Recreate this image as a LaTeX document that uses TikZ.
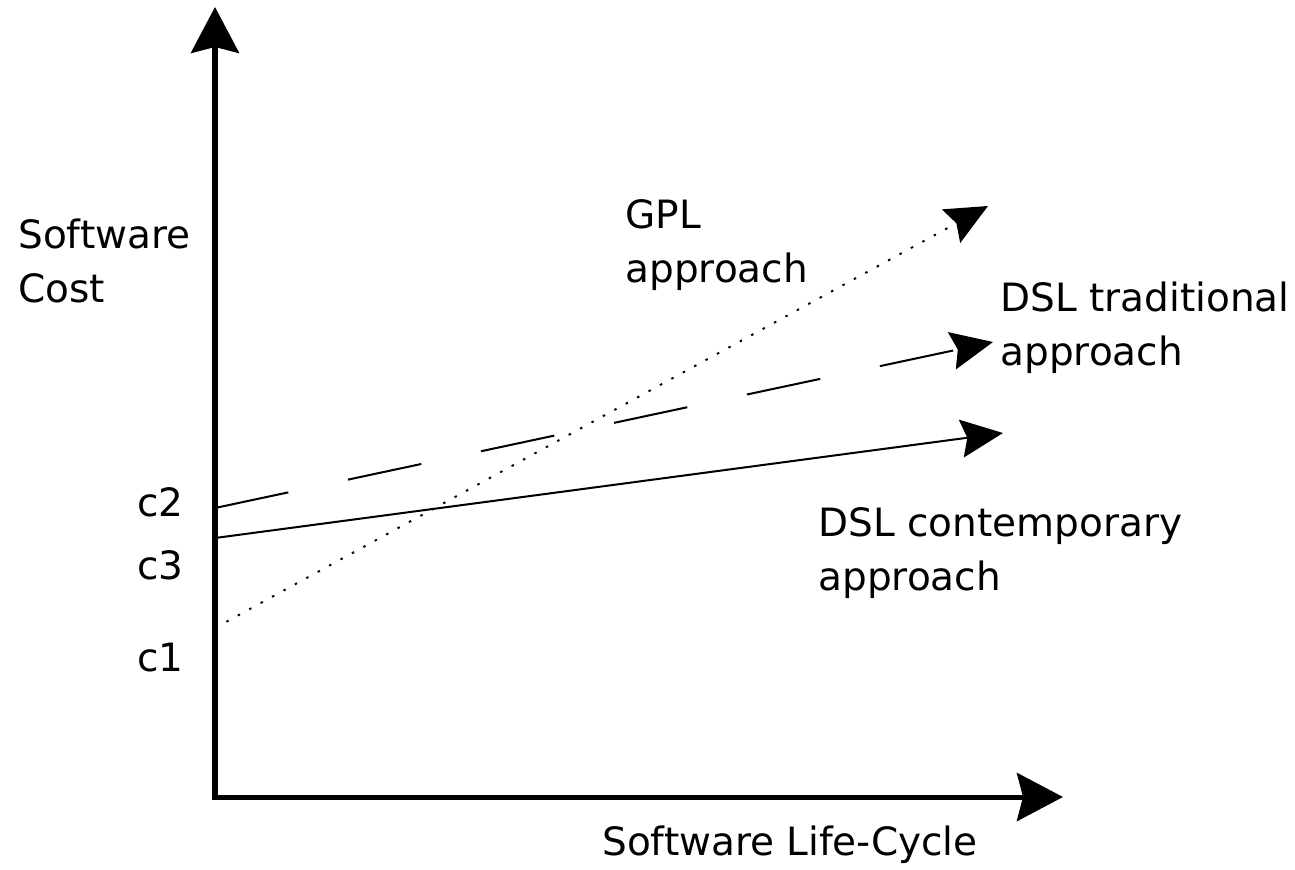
\documentclass[tikz,border=0pt]{standalone}
\usepackage{fontspec}
\setmainfont{DejaVu Sans}
\usetikzlibrary{arrows.meta}
\begin{document}
\begin{tikzpicture}[x=0.02cm,y=-0.02cm,
  lbl/.style={anchor=base west, inner sep=0pt, align=left,
    font=\fontsize{22.2pt}{30.2pt}\selectfont},
  axis/.style={line width=2.85pt, -{Stealth[length=0.92cm,width=0.96cm,inset=0.12cm]}},
  curve/.style={line width=1.15pt, -{Stealth[length=0.84cm,width=0.76cm,inset=0.12cm]}},
  gpl/.style={curve, line width=1.1pt, dash pattern=on 0.05cm off 0.21cm},
  trad/.style={curve, dash pattern=on 1.5cm off 1.22cm}]
\useasboundingbox (0,0) rectangle (1295,869);
% axes
\coordinate (O) at (215,797);
\coordinate (Ystart) at (215,799.5);
\coordinate (Xstart) at (212.5,797);
\coordinate (Ytip) at (215,7);
\coordinate (Xtip) at (1063,797);
\draw[axis] (Ystart) -- (Ytip);
\draw[axis] (Xstart) -- (Xtip);
% curves
\coordinate (C1) at (215,628);
\coordinate (C2) at (215,508);
\coordinate (C3) at (215,538);
\coordinate (GPLtip) at (988,206);
\coordinate (TRADtip) at (993,342);
\coordinate (CONTtip) at (1003,433);
\draw[gpl] (C1) -- (GPLtip);
\draw[trad] (C2) -- (TRADtip);
\draw[curve] (C3) -- (CONTtip);
% labels (multi-line nodes: base is the last line)
\node[lbl] (ylabel) at (18,302) {Software\\Cost};
\node[lbl] (xlabel) at (602,855) {Software Life-Cycle};
\node[lbl] (gpllabel) at (625,282) {GPL\\approach};
\node[lbl] (tradlabel) at (1000,365) {DSL traditional\\approach};
\node[lbl] (contlabel) at (818,590) {DSL contemporary\\approach};
\node[lbl] (c2) at (137,516) {c2};
\node[lbl] (c3) at (137,579) {c3};
\node[lbl] (c1) at (137,671) {c1};
\end{tikzpicture}
\end{document}
